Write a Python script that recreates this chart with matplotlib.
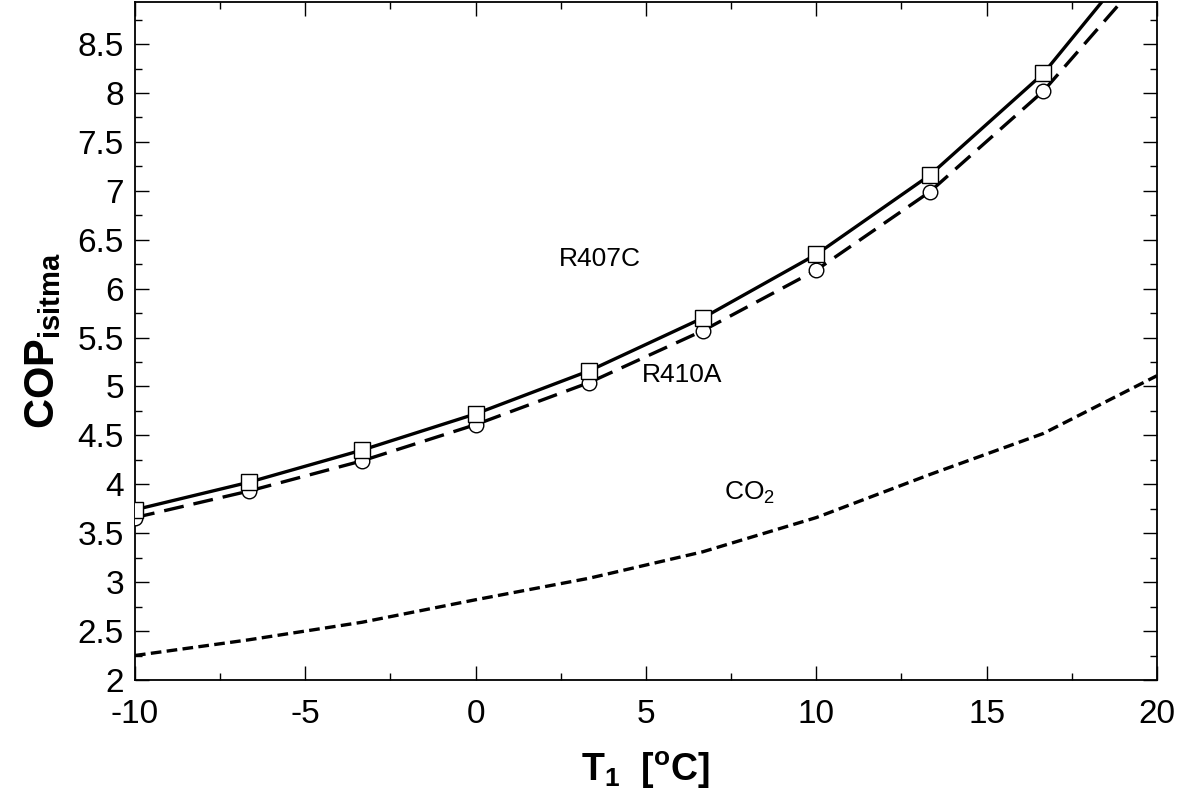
import matplotlib

matplotlib.use("Agg")
import matplotlib.pyplot as plt
from matplotlib.ticker import MultipleLocator

# T1 [C] at the marker points, plus the end of the range
t1 = [-10, -6.667, -3.333, 0, 3.333, 6.667, 10, 13.333, 16.667, 20]

cop_r407c = [3.74, 4.02, 4.35, 4.72, 5.16, 5.70, 6.35, 7.16, 8.20, 9.62]
cop_r410a = [3.66, 3.93, 4.24, 4.61, 5.04, 5.57, 6.19, 6.99, 8.02, 9.35]
cop_co2 = [2.25, 2.41, 2.59, 2.82, 3.04, 3.31, 3.66, 4.10, 4.52, 5.11]

x_ticks = [-10, -5, 0, 5, 10, 15, 20]
y_ticks = [2, 2.5, 3, 3.5, 4, 4.5, 5, 5.5, 6, 6.5, 7, 7.5, 8, 8.5]

plt.rcParams["font.family"] = ["Liberation Sans", "DejaVu Sans"]
plt.rcParams["axes.unicode_minus"] = False
plt.rcParams["mathtext.fontset"] = "custom"
plt.rcParams["mathtext.rm"] = "Liberation Sans"
plt.rcParams["mathtext.it"] = "Liberation Sans:italic"
plt.rcParams["mathtext.bf"] = "Liberation Sans:bold"

fig = plt.figure(figsize=(11.86, 8.09), dpi=100)
ax = fig.add_axes([0.1138, 0.1595, 0.8617, 0.838])

ax.plot(t1, cop_co2, color="black", lw=2.4, dashes=(3.2, 1.6), zorder=2)
ax.plot(t1, cop_r410a, color="black", lw=2.4, dashes=(6, 3), zorder=2)
ax.plot(t1, cop_r407c, color="black", lw=2.4, zorder=3)

# markers only at the computed points
ax.plot(t1, cop_r410a, ls="none", marker="o", ms=10.5, mfc="white",
        mec="black", mew=1.0, zorder=4)
ax.plot(t1, cop_r407c, ls="none", marker="s", ms=11, mfc="white",
        mec="black", mew=1.0, zorder=5)

ax.text(3.65, 6.30, "R407C", fontsize=19, ha="center", va="center")
ax.text(6.06, 5.12, "R410A", fontsize=19, ha="center", va="center")
ax.text(8.05, 3.91, "CO$_2$", fontsize=19, ha="center", va="center")

ax.set_xlim(-10, 20)
ax.set_ylim(2, 8.93)
ax.set_xticks(x_ticks)
ax.set_yticks(y_ticks)
ax.set_yticklabels([f"{v:g}" for v in y_ticks])
ax.xaxis.set_minor_locator(MultipleLocator(2.5))
ax.yaxis.set_minor_locator(MultipleLocator(0.25))
ax.tick_params(which="both", direction="in", top=True, right=True,
               labelsize=24, width=1.0)
ax.tick_params(which="major", length=10)
ax.tick_params(which="minor", length=5)
ax.tick_params(axis="x", which="major", pad=14)
ax.tick_params(axis="y", which="major", pad=8)
for spine in ax.spines.values():
    spine.set_linewidth(1.3)

ax.set_xlabel(r"$\mathbf{T_1\ \ [^oC]}$", fontsize=27, labelpad=14)
ax.set_ylabel(r"$\mathbf{COP_{isitma}}$", fontsize=30, labelpad=10)

fig.savefig("out.png", dpi=100)
